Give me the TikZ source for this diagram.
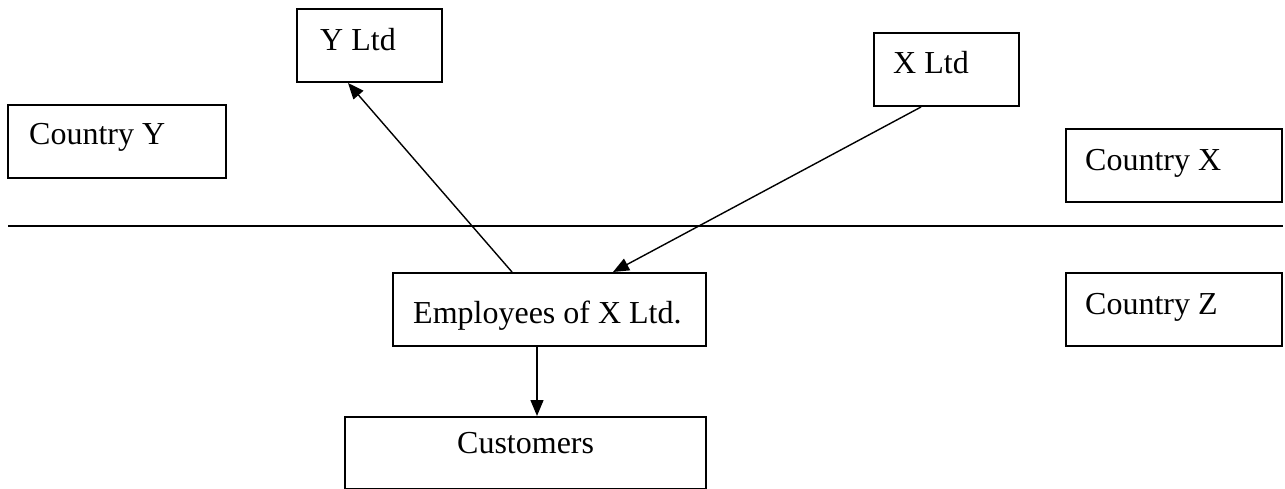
\documentclass[tikz,border=0pt]{standalone}
\usepackage{fontspec}
\setmainfont{Liberation Serif}
\usetikzlibrary{arrows.meta}
\begin{document}
\begin{tikzpicture}[x=1pt,y=-1pt,
  box/.style={draw,line width=2pt,rectangle,inner sep=0pt},
  lbl/.style={anchor=base west,inner sep=0pt,font=\fontsize{32}{38}\selectfont},
  arr/.style={line width=1.4pt,-{Triangle[length=16pt,width=13pt]}}]
\useasboundingbox (0,0) rectangle (1285,489);
% boxes
\node[box,minimum width=145pt,minimum height=73pt] (yl) at (369.5,45.5) {};
\node[box,minimum width=145pt,minimum height=73pt] (xl) at (946.5,69.5) {};
\node[box,minimum width=218pt,minimum height=73pt] (cy) at (117,141.5) {};
\node[box,minimum width=216pt,minimum height=73pt] (cx) at (1174,165.5) {};
\node[box,minimum width=313pt,minimum height=73pt] (emp) at (549.5,309.5) {};
\node[box,minimum width=216pt,minimum height=73pt] (cz) at (1174,309.5) {};
\node[box,minimum width=361pt,minimum height=72pt] (cust) at (525.5,453) {};
% texts
\node[lbl] (tyl) at (320,51) {Y Ltd};
\node[lbl] (txl) at (893,74) {X Ltd};
\node[lbl] (tcy) at (29,145) {Country Y};
\node[lbl] (tcx) at (1085,171) {Country X};
\node[lbl] (tcz) at (1085,314) {Country Z};
\node[lbl] (temp) at (413,323) {Employees of X Ltd.};
\node[lbl] (tcust) at (457,453) {Customers};
% dividing line
\coordinate (l1) at (8,226);
\coordinate (l2) at (1283,226);
\draw[line width=2pt] (l1) -- (l2);
% arrows
\draw[arr] ([xshift=120pt]emp.north west) -- ([xshift=52pt]yl.south west);
\draw[arr] ([xshift=48pt]xl.south west) -- ([xshift=221pt]emp.north west);
\draw[arr] ([xshift=145pt]emp.south west) -- ([xshift=193pt]cust.north west);
\end{tikzpicture}
\end{document}
